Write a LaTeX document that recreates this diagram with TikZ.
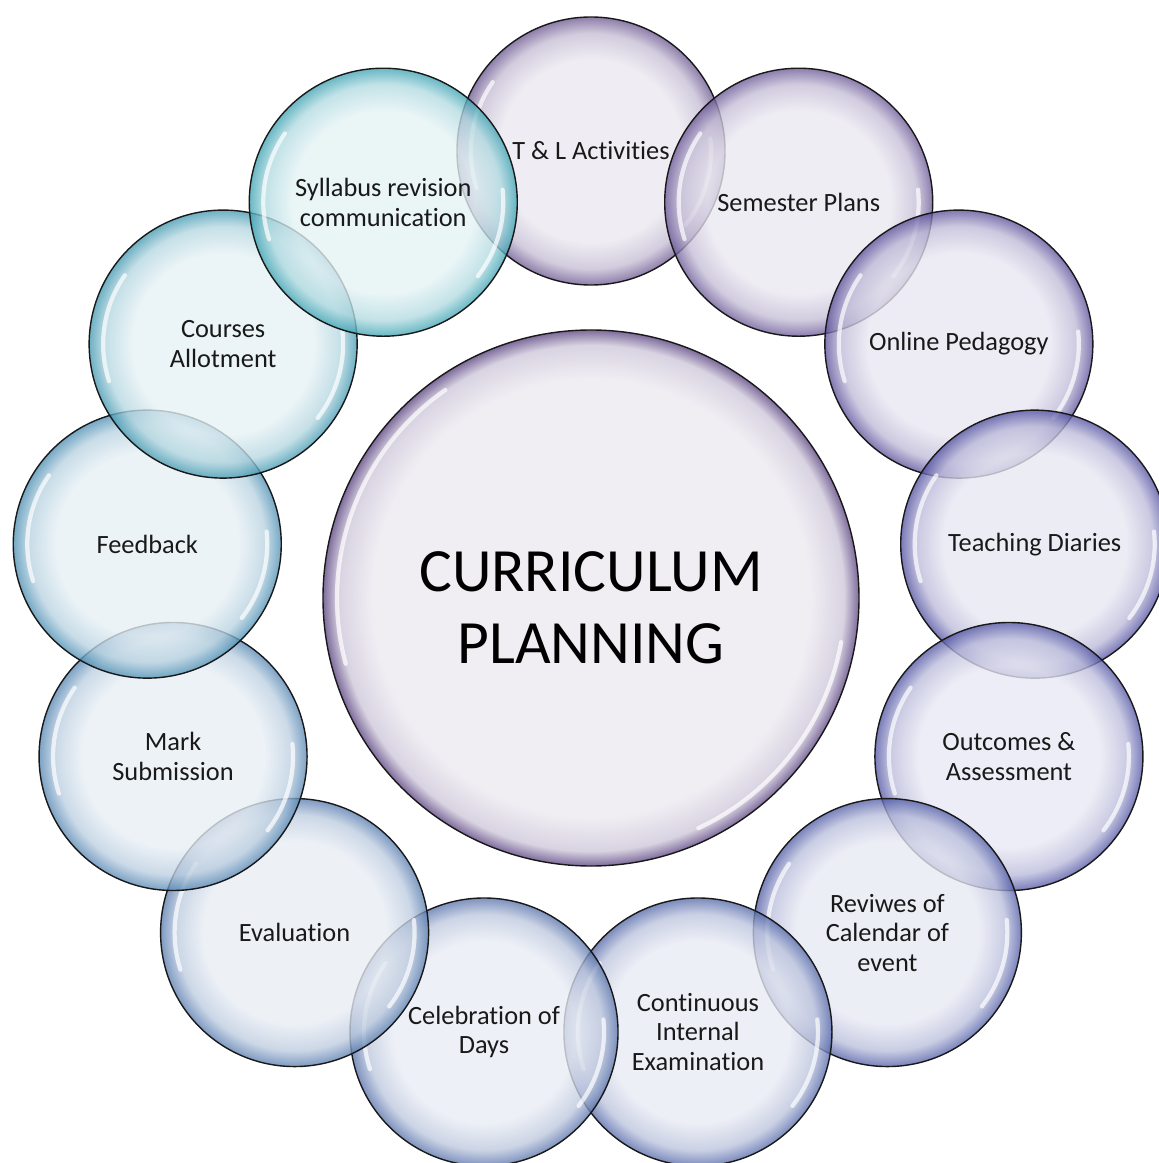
\documentclass[tikz,border=0pt]{standalone}
\usepackage{fontspec}
\setmainfont{Carlito}[Ligatures=NoCommon]

% rim colours, purple at the top going to teal on the left
\definecolor{rimA}{HTML}{6E5A92}
\definecolor{rimB}{HTML}{6C5A98}
\definecolor{rimC}{HTML}{5E539C}
\definecolor{rimD}{HTML}{5553A2}
\definecolor{rimE}{HTML}{5558A6}
\definecolor{rimF}{HTML}{5460A8}
\definecolor{rimG}{HTML}{566AAA}
\definecolor{rimH}{HTML}{5A74AC}
\definecolor{rimI}{HTML}{5A7EB0}
\definecolor{rimJ}{HTML}{5888B4}
\definecolor{rimK}{HTML}{4E90B4}
\definecolor{rimL}{HTML}{449AB2}
\definecolor{rimM}{HTML}{3EA4B4}
\definecolor{hubrim}{HTML}{7E6C9C}

% the edge of the circle sits at 25bp
\pgfdeclareradialshading[bubblerim,bubblein,bubblemid]{bubble}{\pgfpoint{0bp}{0bp}}{%
  color(0bp)=(bubblein); color(17bp)=(bubblein);
  color(22bp)=(bubblemid); color(25bp)=(bubblerim); color(50bp)=(bubblerim)}
\pgfdeclareradialshading[bubblerim,bubblein,bubblemid]{hubshade}{\pgfpoint{0bp}{0bp}}{%
  color(0bp)=(bubblein); color(20.5bp)=(bubblein);
  color(23.6bp)=(bubblemid); color(25bp)=(bubblerim); color(50bp)=(bubblerim)}

\newcommand\bubblelist{%
  {T \& L Activities}/rimA,
  {Semester Plans}/rimB,
  {Online Pedagogy}/rimC,
  {Teaching Diaries}/rimD,
  {Outcomes \&\\ Assessment}/rimE,
  {Reviwes of\\ Calendar of\\ event}/rimF,
  {Continuous\\ Internal\\ Examination}/rimG,
  {Celebration of\\ Days}/rimH,
  {Evaluation}/rimI,
  {Mark\\ Submission}/rimJ,
  {Feedback}/rimK,
  {Courses\\ Allotment}/rimL,
  {Syllabus revision\\ communication}/rimM}

\begin{document}
\begin{tikzpicture}[
  bubble/.style={circle, draw=black!90, line width=0.8pt, shading=bubble,
    fill opacity=0.78, minimum size=5.36cm, inner sep=0pt},
  hub/.style={bubble, shading=hubshade, fill opacity=1, minimum size=10.72cm},
  gloss/.style={white, line width=2.4pt, line cap=round, opacity=0.7},
  bubtext/.style={align=center, text=black!90, font=\fontsize{15}{16.8}\selectfont},
  hubtext/.style={align=center, text=black, font=\fontsize{35}{41}\selectfont}]
\useasboundingbox (-11.82,-11.30) rectangle (11.36,11.96);

% centre
\colorlet{bubblerim}{hubrim}
\colorlet{bubblein}{hubrim!12!white}
\colorlet{bubblemid}{hubrim!30!white}
\node[hub] (hub) at (0,0) {};
\draw[gloss] (hub.center) ++(125:5.08) arc (125:195:5.08);
\draw[gloss] (hub.center) ++(-65:5.08) arc (-65:-10:5.08);

% ring of bubbles
\foreach \txt/\col [count=\k from 0] in \bubblelist {
  \colorlet{bubblerim}{\col}
  \colorlet{bubblein}{\col!14!white}
  \colorlet{bubblemid}{\col!40!white}
  \node[bubble] (b\k) at ({90-\k*360/13}:8.94) {};
  \draw[gloss] (b\k.center) ++(145:2.4) arc (145:198:2.4);
  \draw[gloss] (b\k.center) ++(-38:2.4) arc (-38:6:2.4);
}

% texts on top
\foreach \txt/\col [count=\k from 0] in \bubblelist
  \node[bubtext] (t\k) at (b\k) {\txt};
\node[hubtext] (title) at ([yshift=-0.2cm]hub.center) {CURRICULUM\\ PLANNING};
\end{tikzpicture}
\end{document}
